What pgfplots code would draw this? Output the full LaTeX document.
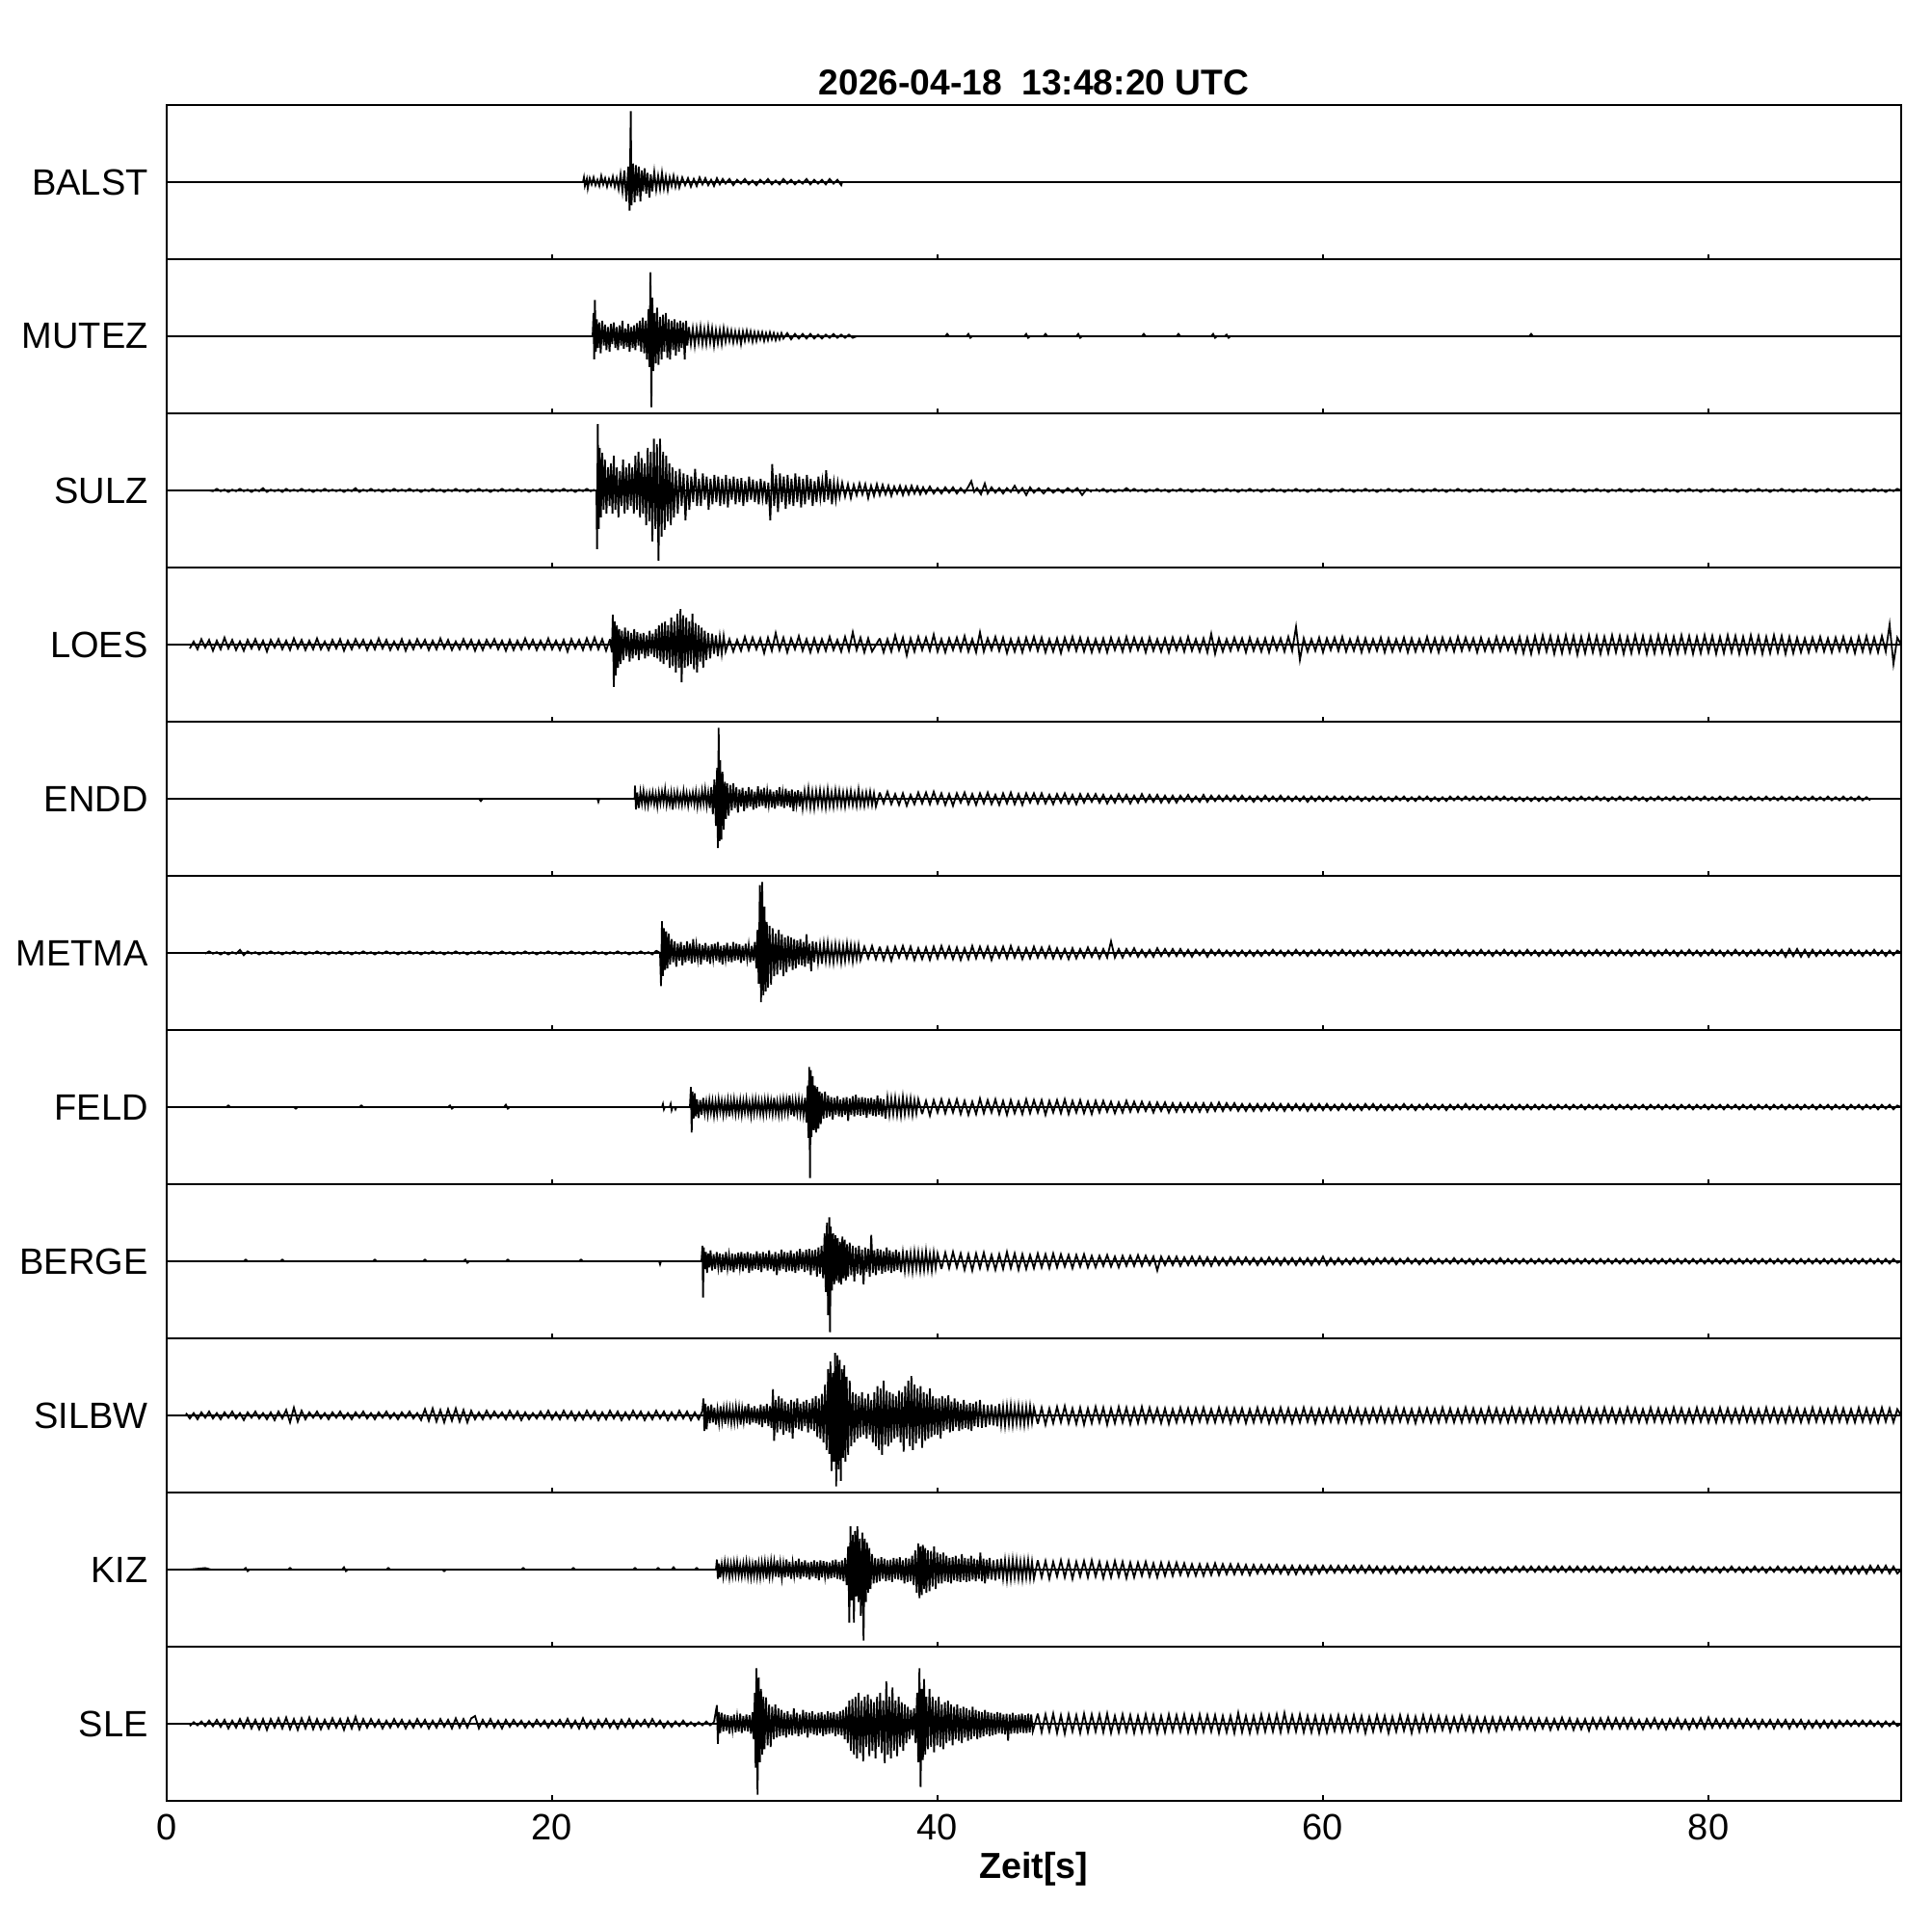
\documentclass[border=0pt]{standalone}
\usepackage{fontspec}
\setmainfont{Liberation Sans}
\usepackage{pgfplots}
\usepackage{pgfplotstable}
\pgfplotsset{compat=1.18}
\usepgfplotslibrary{groupplots}
\tikzset{tr/.style={black, line width=0.45pt, mark=none}}
% quiet noise before the first arrivals (amplitude in % of half a panel)
\pgfplotstableread{
t sulz loes metma silbw sle
1.0 nan nan nan 3 nan
1.2 nan -5 nan -4 -3
1.4 nan 4 nan 3 2
1.6 nan -6 nan -5 -2
1.8 nan 7 nan 4 3
2.0 nan -4 -1 -3 -3
2.2 0 6 2 5 4
2.4 -1 -8 -1 -4 -3
2.6 2 5 1 3 5
2.8 -1 -6 -2 -5 -4
3.0 1 9 1 4 5
3.2 -2 -5 -2 -3 -6
3.4 1 6 1 5 4
3.6 -1 -7 -1 -4 -5
3.8 2 4 4 3 6
4.0 -1 -8 -3 -6 -5
4.2 1 6 2 4 7
4.4 -2 -5 -1 -3 -6
4.6 1 7 1 5 5
4.8 -1 -6 -2 -4 -7
5.0 3 5 1 3 6
5.2 -2 -9 -1 -5 -8
5.4 1 6 2 4 6
5.6 -1 -4 -1 -6 -5
5.8 1 7 1 5 7
6.0 -2 -6 -2 -4 -6
6.2 2 5 1 7 8
6.4 -1 -7 -1 -9 -7
6.6 1 8 2 10 6
6.8 -1 -5 -1 -8 -8
7.0 2 6 1 6 7
7.2 -1 -7 -2 -5 -6
7.4 1 5 1 4 8
7.6 -2 -6 -1 -3 -7
7.8 1 8 2 5 6
8.0 -1 -6 -1 -4 -7
8.2 2 4 1 3 5
8.4 -1 -7 -2 -5 -6
8.6 1 6 1 4 7
8.8 -1 -5 -1 -3 -5
9.0 1 7 2 5 6
9.2 -2 -8 -1 -4 -8
9.4 1 5 1 3 7
9.6 -1 -6 -2 -5 -6
9.8 3 7 1 4 9
10.0 -2 -4 -1 -3 -7
10.2 1 6 2 5 6
10.4 -1 -7 -1 -4 -5
10.6 2 5 1 3 6
10.8 -1 -6 -2 -5 -4
11.0 1 8 1 4 5
11.2 -2 -5 -1 -3 -6
11.4 1 6 2 5 4
11.6 -1 -7 -1 -4 -5
11.8 2 4 1 3 6
12.0 -1 -6 -2 -5 -4
12.2 1 7 1 4 5
12.4 -1 -8 -1 -3 -6
12.6 2 5 2 5 4
12.8 -1 -6 -1 -4 -5
13.0 1 7 1 3 6
13.2 -2 -4 -2 -6 -4
13.4 1 6 1 8 5
13.6 -1 -7 -1 -7 -6
13.8 2 5 2 9 4
14.0 -1 -6 -1 -8 -5
14.2 1 8 1 7 6
14.4 -2 -5 -2 -9 -4
14.6 1 6 1 8 5
14.8 -1 -7 -1 -7 -6
15.0 2 4 2 9 7
15.2 -1 -6 -1 -8 -5
15.4 1 7 1 7 6
15.6 -2 -5 -2 -9 -5
15.8 1 6 1 6 7
16.0 -1 -8 -1 -5 10
16.2 2 5 2 4 -6
16.4 -1 -7 -1 -5 5
16.6 1 6 1 6 -4
16.8 -2 -4 -2 -4 6
17.0 1 7 1 5 -5
17.2 -1 -6 -1 -3 4
17.4 2 5 2 4 -6
17.6 -1 -8 -1 -5 5
17.8 1 6 1 6 -4
18.0 -1 -7 -2 -4 5
18.2 2 5 1 5 -3
18.4 -1 -6 -1 -6 4
18.6 1 8 2 4 -5
18.8 -2 -5 -1 -5 3
19.0 1 6 1 3 -4
19.2 -1 -7 -2 -4 5
19.4 2 5 1 5 -3
19.6 -1 -6 -1 -4 4
19.8 1 8 2 6 -5
20.0 -2 -6 -1 -5 4
20.2 1 5 1 4 -3
20.4 -1 -7 -2 -5 5
20.6 2 6 1 6 -4
20.8 -1 -9 -1 -4 6
21.0 1 7 2 5 -5
21.2 -2 -5 -1 -6 4
21.4 1 6 1 4 -6
21.6 -1 -7 -2 -5 7
21.8 2 8 1 6 -5
22.0 -1 -6 -1 -4 4
22.2 1 9 2 5 -6
22.4 nan -6 -1 -6 5
22.6 nan 7 1 4 -4
22.8 nan -8 -2 -5 6
23.0 nan 7 1 6 -5
23.2 nan nan -1 -4 4
23.4 nan nan 2 5 -6
23.6 nan nan -1 -6 5
23.8 nan nan 1 4 -4
24.0 nan nan -2 -5 6
24.2 nan nan 1 6 -5
24.4 nan nan -1 -4 4
24.6 nan nan 2 5 -3
24.8 nan nan -1 -6 5
25.0 nan nan 1 4 -4
25.2 nan nan -2 -5 6
25.4 nan nan 3 6 -3
25.6 nan nan nan -4 4
25.8 nan nan nan 5 -5
26.0 nan nan nan -6 3
26.2 nan nan nan 4 -4
26.4 nan nan nan -5 3
26.6 nan nan nan 6 -3
26.8 nan nan nan -4 4
27.0 nan nan nan 5 -3
27.2 nan nan nan -6 2
27.4 nan nan nan 4 -3
27.6 nan nan nan -5 2
27.8 nan nan nan 6 -2
28.0 nan nan nan nan 3
28.2 nan nan nan nan -2
28.4 nan nan nan nan 2
}\pretab
% coda noise after the strong phases
\pgfplotstableread{
t sulz loes endd metma feld berge silbw kiz sle
37.0 nan 8 8 8 nan nan nan nan nan
37.2 nan -10 -6 -9 nan nan nan nan nan
37.4 nan 7 9 7 nan nan nan nan nan
37.6 nan -9 -7 -10 nan nan nan nan nan
37.8 nan 12 6 8 nan nan nan nan nan
38.0 nan -7 -8 -6 nan nan nan nan nan
38.2 nan 9 7 9 nan nan nan nan nan
38.4 nan -14 -9 -7 nan nan nan nan nan
38.6 nan 8 5 8 nan nan nan nan nan
38.8 nan -9 -7 -9 nan nan nan nan nan
39.0 nan 10 8 6 nan nan nan nan nan
39.2 nan -7 -6 -8 -9 nan nan nan nan
39.4 nan 9 8 7 8 nan nan nan nan
39.6 nan -8 -7 -9 -11 nan nan nan nan
39.8 nan 13 9 8 9 nan nan nan nan
40.0 nan -9 -6 -7 -7 nan nan nan nan
40.2 nan 7 7 9 10 -10 nan nan nan
40.4 nan -10 -8 -6 -8 11 nan nan nan
40.6 nan 8 6 8 9 -9 nan nan nan
40.8 nan -7 -9 -8 -7 12 nan nan nan
41.0 nan 9 7 7 10 -8 nan nan nan
41.2 nan -8 -5 -9 -9 10 nan nan nan
41.4 nan 11 8 6 8 -11 nan nan nan
41.6 nan -9 -7 -8 -10 9 nan nan nan
41.8 nan 7 6 9 7 -12 nan nan nan
42.0 nan -10 -8 -7 -9 10 nan nan nan
42.2 nan 16 7 8 11 -9 nan nan nan
42.4 nan -9 -6 -6 -8 11 nan nan nan
42.6 nan 8 8 8 9 -10 nan nan nan
42.8 nan -7 -7 -9 -7 8 nan nan nan
43.0 nan 10 5 7 10 -11 nan nan nan
43.2 nan -8 -8 -6 -9 9 nan nan nan
43.4 nan 9 7 8 8 -10 nan nan nan
43.6 nan -11 -6 -7 -10 12 nan nan nan
43.8 nan 7 8 9 9 -9 nan nan nan
44.0 nan -9 -7 -6 -8 10 nan nan nan
44.2 nan 8 6 7 7 -11 nan nan nan
44.4 nan -10 -8 -8 -9 9 nan nan nan
44.6 nan 9 7 6 10 -10 nan nan nan
44.8 nan -7 -5 -7 -8 8 nan nan nan
45.0 nan 10 7 8 9 -9 nan nan nan
45.2 nan -8 -6 -6 -7 10 -11 12 13
45.4 nan 9 7 7 9 -8 10 -10 -11
45.6 nan -10 -6 -6 -10 9 -12 11 12
45.8 nan 7 5 8 8 -9 9 -12 -10
46.0 nan -9 -7 -7 -7 10 -10 10 13
46.2 nan 8 6 6 9 -8 11 -9 -12
46.4 nan -11 -5 -7 -8 9 -9 12 11
46.6 nan 9 7 5 10 -7 12 -10 -13
46.8 nan -7 -6 -8 -9 8 -10 11 12
47.0 nan 10 5 6 8 -9 9 -12 -10
47.2 nan -8 -7 -7 -7 8 -11 10 11
47.4 nan 9 6 5 9 -7 10 -9 -12
47.6 nan -9 -5 -6 -8 9 -12 11 13
47.8 nan 8 6 7 7 -8 9 -10 -11
48.0 nan -10 -4 -5 -9 7 -10 12 12
48.2 2 7 6 6 8 -8 11 -9 -10
48.4 -1 -9 -5 -7 -7 7 -9 10 12
48.6 2 8 5 5 8 -6 10 -11 -11
48.8 -2 -10 -6 -6 -6 8 -12 9 13
49.0 1 9 4 15 7 -7 9 -10 -12
49.2 -2 -7 -5 -6 -8 6 -10 11 10
49.4 1 8 6 5 6 -8 11 -9 -11
49.6 -1 -9 -4 -6 -7 7 -9 10 12
49.8 3 10 5 5 8 -6 10 -11 -10
50.0 -1 -8 -6 -4 -6 7 -11 9 11
50.2 2 9 4 6 7 -6 9 -10 -12
50.4 -1 -7 -5 -5 -6 8 -10 9 10
50.6 1 8 6 4 7 -6 11 -8 -11
50.8 -2 -10 -4 -5 -5 7 -9 10 12
51.0 1 9 5 4 6 -5 10 -9 -10
51.2 -1 -8 -4 -5 -7 6 -8 8 11
51.4 2 7 5 6 6 -12 9 -10 -12
51.6 -1 -9 -5 -4 -5 6 -10 9 10
51.8 1 8 4 5 6 -5 9 -8 -11
52.0 -2 -10 -5 -4 -7 6 -11 9 12
52.2 1 9 4 5 5 -5 8 -8 -10
52.4 -1 -7 -5 -4 -6 6 -9 9 11
52.6 2 8 4 5 5 -6 10 -7 -10
52.8 -1 -9 -3 -4 -6 5 -8 8 12
53.0 1 10 5 4 5 -5 9 -8 -11
53.2 -2 -8 -4 -5 -6 6 -10 7 10
53.4 1 7 3 4 5 -5 9 -8 -11
53.6 -1 -9 -4 -3 -6 6 -8 7 12
53.8 2 8 5 4 5 -5 10 -8 -10
54.0 -1 -10 -4 -5 -6 5 -9 7 11
54.2 1 14 4 4 5 -6 8 -7 -10
54.4 -2 -12 -3 -3 -5 5 -9 8 11
54.6 1 8 4 4 6 -5 10 -7 -12
54.8 -1 -9 -3 -4 -5 4 -8 7 10
55.0 2 7 4 3 5 -5 9 -6 -11
55.2 -1 -8 -3 -4 -4 5 -10 7 10
55.4 1 9 4 3 5 -4 9 -6 -12
55.6 -2 -7 -3 -4 -5 5 -8 7 14
55.8 1 8 4 3 4 -4 9 -6 -11
56.0 -1 -10 -3 -4 -5 5 -10 6 10
56.2 2 9 3 3 4 -4 8 -7 -12
56.4 -1 -8 -4 -4 -5 4 -9 6 10
56.6 1 7 3 3 4 -5 10 -5 -11
56.8 -2 -9 -3 -4 -5 4 -8 6 12
57.0 1 8 4 3 4 -4 9 -5 -10
57.2 -1 -10 -3 -3 -4 5 -10 6 11
57.4 2 9 3 4 5 -4 8 -5 -10
57.6 -1 -7 -3 -3 -4 4 -9 6 12
57.8 1 8 4 3 4 -5 10 -5 -11
58.0 -2 -9 -3 -4 -5 4 -8 5 14
58.2 1 10 3 3 4 -4 9 -6 -10
58.4 -1 -8 -3 -3 -4 4 -10 5 11
58.6 2 23 3 4 4 -5 8 -6 -10
58.8 -1 -20 -3 -3 -4 4 -9 5 12
59.0 1 8 3 3 4 -4 10 -5 -11
59.2 -2 -9 -4 -4 -5 4 -8 5 10
59.4 1 7 3 3 4 -5 9 -6 -11
59.6 -1 -8 -3 -3 -4 4 -10 5 10
59.8 2 9 3 4 4 -4 8 -5 -12
60.0 -1 -10 -3 -3 -4 6 -9 5 10
60.2 1 8 3 3 4 -5 9 -4 -11
60.4 -2 -7 -3 -4 -4 4 -8 5 10
60.6 1 9 3 3 3 -4 10 -4 -9
60.8 -1 -8 -2 -3 -4 4 -9 5 11
61.0 2 10 3 4 4 -4 8 -4 -10
61.2 -1 -9 -3 -3 -3 3 -9 5 9
61.4 1 7 3 3 4 -4 10 -4 -10
61.6 -2 -8 -2 -4 -4 4 -8 5 11
61.8 1 9 3 3 3 -3 9 -4 -9
62.0 -1 -10 -3 -3 -4 4 -10 5 10
62.2 2 8 2 4 4 -4 8 -4 -12
62.4 -1 -9 -3 -3 -3 3 -9 5 9
62.6 1 7 3 3 4 -4 9 -4 -10
62.8 -2 -8 -2 -4 -4 4 -8 4 11
63.0 1 9 3 3 3 -3 10 -5 -9
63.2 -1 -10 -3 -3 -4 4 -9 4 10
63.4 2 8 2 4 3 -3 8 -4 -12
63.6 -1 -9 -3 -3 -4 4 -9 4 9
63.8 1 7 3 3 3 -4 10 -5 -10
64.0 -2 -8 -2 -4 -3 3 -8 4 11
64.2 1 9 3 3 4 -3 9 -4 -9
64.4 -1 -10 -3 -3 -3 4 -9 4 10
64.6 2 8 2 4 3 -3 8 -4 -12
64.8 -1 -9 -3 -3 -4 3 -10 4 9
65.0 1 7 3 3 3 -4 9 -4 -10
65.2 -2 -8 -2 -4 -3 3 -8 4 11
65.4 1 10 3 3 4 -3 9 -4 -9
65.6 -1 -9 -3 -3 -3 4 -9 4 10
65.8 2 8 2 4 3 -3 8 -3 -9
66.0 -1 -10 -3 -3 -3 3 -9 4 10
66.2 1 9 2 3 3 -3 10 -4 -8
66.4 -2 -7 -3 -4 -4 3 -8 3 9
66.6 1 8 3 3 3 -3 9 -4 -10
66.8 -1 -9 -2 -3 -3 4 -9 3 8
67.0 2 10 3 4 3 -3 8 -4 -9
67.2 -1 -8 -2 -3 -3 3 -9 3 10
67.4 1 9 3 3 4 -3 10 -4 -8
67.6 -2 -7 -2 -4 -3 3 -8 3 9
67.8 1 8 3 3 3 -4 9 -4 -10
68.0 -1 -10 -2 -3 -3 3 -9 3 8
68.2 2 9 3 4 3 -3 8 -4 -9
68.4 -1 -8 -2 -3 -3 3 -9 3 8
68.6 1 7 3 3 3 -3 10 -4 -10
68.8 -2 -9 -2 -4 -3 3 -8 3 8
69.0 1 10 3 3 3 -3 9 -4 -9
69.2 -1 -8 -2 -3 -3 4 -9 3 8
69.4 2 9 3 4 3 -3 8 -4 -7
69.6 -1 -7 -2 -3 -3 3 -9 3 8
69.8 1 8 2 3 3 -3 10 -3 -7
70.0 -2 -10 -3 -4 -3 3 -8 4 8
70.2 1 10 2 3 3 -3 9 -3 -7
70.4 -1 -11 -3 -3 -3 3 -9 4 8
70.6 2 9 2 4 3 -3 8 -3 -6
70.8 -1 -12 -3 -3 -3 3 -9 4 7
71.0 1 11 2 3 3 -3 10 -3 -8
71.2 -2 -10 -3 -4 -3 3 -8 4 7
71.4 1 12 2 3 3 -3 9 -3 -6
71.6 -1 -9 -3 -3 -2 3 -9 4 7
71.8 2 11 2 4 3 -3 8 -3 -8
72.0 -1 -12 -2 -3 -3 3 -9 4 6
72.2 1 10 3 3 3 -3 10 -3 -7
72.4 -2 -11 -2 -4 -2 3 -8 4 8
72.6 1 12 2 3 3 -3 9 -3 -6
72.8 -1 -10 -3 -3 -3 3 -9 4 7
73.0 2 11 2 4 3 -3 8 -3 -8
73.2 -1 -13 -2 -3 -2 3 -9 4 6
73.4 1 10 3 3 3 -3 10 -3 -7
73.6 -2 -11 -2 -4 -3 3 -8 4 6
73.8 1 12 2 3 3 -3 9 -3 -9
74.0 -1 -10 -2 -3 -2 3 -9 4 7
74.2 2 11 3 4 3 -3 8 -3 -6
74.4 -1 -12 -2 -3 -3 3 -9 4 7
74.6 1 10 2 3 3 -3 10 -3 -6
74.8 -2 -11 -3 -4 -2 3 -8 3 8
75.0 1 12 2 3 3 -3 9 -4 -6
75.2 -1 -10 -2 -3 -3 3 -9 3 7
75.4 2 11 3 4 3 -3 8 -3 -6
75.6 -1 -12 -2 -3 -2 3 -9 4 7
75.8 1 10 2 3 3 -3 10 -3 -6
76.0 -2 -11 -2 -4 -3 3 -8 3 7
76.2 1 12 3 3 3 -3 9 -4 -6
76.4 -1 -10 -2 -3 -2 3 -9 3 5
76.6 2 11 2 4 3 -3 8 -3 -7
76.8 -1 -12 -3 -3 -3 3 -9 4 6
77.0 1 10 2 3 3 -3 10 -3 -5
77.2 -2 -11 -2 -4 -2 3 -8 3 7
77.4 1 12 3 3 3 -3 9 -4 -6
77.6 -1 -10 -2 -3 -3 3 -9 3 5
77.8 2 11 2 4 3 -3 8 -3 -7
78.0 -1 -12 -2 -3 -2 3 -9 4 6
78.2 1 10 3 3 3 -3 10 -3 -5
78.4 -2 -11 -2 -4 -3 3 -8 3 7
78.6 1 12 2 3 3 -3 9 -4 -6
78.8 -1 -10 -2 -3 -2 3 -9 3 5
79.0 2 11 3 4 3 -3 8 -3 -7
79.2 -1 -12 -2 -3 -3 3 -9 4 6
79.4 1 10 2 3 3 -3 10 -3 -5
79.6 -2 -11 -2 -4 -2 3 -8 3 7
79.8 1 12 3 3 3 -3 9 -4 -6
80.0 -1 -10 -2 -3 -3 3 -9 3 8
80.2 2 11 2 4 3 -3 8 -3 -5
80.4 -1 -12 -2 -3 -2 3 -9 3 6
80.6 1 10 3 3 3 -3 10 -4 -5
80.8 -2 -11 -2 -4 -3 3 -8 3 6
81.0 1 12 2 3 3 -3 9 -3 -5
81.2 -1 -10 -2 -3 -2 3 -9 4 6
81.4 2 11 3 4 3 -3 8 -3 -5
81.6 -1 -12 -2 -3 -3 3 -9 3 6
81.8 1 10 2 3 3 -3 10 -4 -5
82.0 -2 -11 -2 -4 -2 3 -8 3 6
82.2 1 12 3 3 3 -3 9 -3 -4
82.4 -1 -10 -2 -3 -3 3 -9 4 5
82.6 2 11 2 4 3 -3 8 -3 -6
82.8 -1 -12 -2 -3 -2 3 -9 3 5
83.0 1 10 3 3 3 -3 10 -4 -4
83.2 -2 -11 -2 -4 -3 3 -8 3 5
83.4 1 12 2 3 3 -3 9 -3 -6
83.6 -1 -10 -2 -3 -2 3 -9 4 5
83.8 2 11 3 4 3 -3 8 -3 -4
84.0 -1 -12 -2 -5 -3 3 -9 3 5
84.2 1 10 2 5 3 -3 10 -4 -6
84.4 -2 -11 -2 -4 -2 3 -8 3 5
84.6 1 9 3 5 3 -3 9 -3 -4
84.8 -1 -10 -2 -5 -3 3 -9 4 5
85.0 2 8 2 4 3 -3 8 -4 -6
85.2 -1 -10 -2 -5 -2 3 -9 3 4
85.4 1 9 3 4 3 -3 10 -4 -5
85.6 -2 -8 -2 -4 -3 3 -8 4 4
85.8 1 10 2 3 3 -3 9 -4 -5
86.0 -1 -9 -2 -3 -2 3 -9 3 4
86.2 2 8 3 4 3 -3 8 -4 -5
86.4 -1 -10 -2 -3 -3 3 -9 4 4
86.6 1 9 2 3 3 -3 10 -5 -5
86.8 -2 -8 -2 -4 -2 3 -8 4 4
87.0 1 10 3 3 3 -3 9 -5 -3
87.2 -1 -9 -2 -3 -3 3 -9 4 4
87.4 2 8 2 4 3 -3 8 -5 -3
87.6 -1 -11 -2 -3 -2 3 -9 4 4
87.8 1 10 3 3 3 -3 10 -5 -3
88.0 -2 -9 -2 -4 -3 3 -8 4 4
88.2 1 11 2 3 3 -3 9 -5 -3
88.4 -1 -10 -2 -3 -2 3 -9 5 4
88.6 2 9 nan 4 3 -3 8 -4 -3
88.8 -1 -10 nan -3 -3 3 -9 5 3
89.0 1 11 nan 3 3 -3 10 -4 -4
89.2 -2 -9 nan -4 -2 3 -8 5 3
89.4 1 26 nan 3 3 -3 9 -5 -3
89.6 -1 -25 nan -3 -3 3 -9 4 3
89.8 2 9 nan 3 2 -2 8 -5 -3
90.0 0 0 nan 0 0 0 0 0 0
}\codatab
\begin{document}
\begin{tikzpicture}
\begin{groupplot}[
  group style={group size=1 by 11, vertical sep=0pt, xticklabels at=edge bottom},
  width=450pt, height=40pt, scale only axis,
  xmin=0, xmax=90, ymin=-100, ymax=100,
  xtick={0,20,40,60,80}, xtick pos=bottom, tick align=inside,
  major tick length=1.2pt, every tick/.style={black, line width=0.4pt},
  ytick={0}, ytick style={draw=none},
  axis line style={line width=0.5pt},
  yticklabel style={font=\fontsize{9.5}{11}\selectfont, xshift=-1.3pt},
  xticklabel style={font=\fontsize{9.5}{11}\selectfont},
  /pgf/number format/assume math mode=true,
]
% BALST
\nextgroupplot[yticklabels={BALST},
  title={\bfseries 2026-04-18\ \ 13:48:20 UTC},
  title style={font=\fontsize{9.3}{11}\selectfont, yshift=-7pt}]
\addplot[tr] coordinates {(0,0) (90,0)};
\addplot[tr] coordinates {(21.6,0) (21.65,6) (21.7,-5) (21.8,4) (21.85,-8) (21.95,5) (22.05,-3) (22.15,6) (22.25,-4) (22.35,3) (22.45,-5) (22.55,8) (22.65,-3) (22.75,5) (22.85,-6) (22.95,4) (23.05,-4) (23.15,7) (23.25,-6) (23.35,5) (23.45,-9) (23.55,10) (23.65,-12) (23.75,15) (23.85,-25) (23.95,20) (24.02,-37) (24.08,92) (24.12,-30) (24.2,24) (24.28,-26) (24.35,22) (24.42,-18) (24.5,20) (24.58,-25) (24.65,15) (24.72,-12) (24.8,18) (24.88,-15) (24.95,12) (25.05,-20) (25.12,10) (25.2,-12) (25.3,13) (25.4,-10) (25.5,8) (25.6,-9) (25.7,12) (25.8,-8) (25.9,7) (26.0,-10) (26.1,6) (26.2,-5) (26.3,8) (26.4,-6) (26.5,5) (26.6,-7) (26.75,6) (26.9,-4) (27.05,5) (27.2,-6) (27.35,4) (27.5,-5) (27.65,6) (27.8,-3) (27.95,5) (28.1,-4) (28.25,3) (28.4,-5) (28.55,5) (28.7,-3) (28.85,4) (29.0,-2) (29.2,4) (29.4,-4) (29.6,3) (29.8,-2) (30.0,4) (30.2,-3) (30.4,2) (30.6,-4) (30.8,3) (31.0,-2) (31.2,4) (31.4,-3) (31.6,2) (31.8,-3) (32.0,4) (32.2,-2) (32.4,3) (32.6,-3) (32.8,2) (33.0,-2) (33.2,4) (33.4,-3) (33.6,3) (33.8,-2) (34.0,3) (34.2,-3) (34.4,4) (34.6,-2) (34.8,3) (35.0,-4) (35.05,0)};
% MUTEZ
\nextgroupplot[yticklabels={MUTEZ}]
\addplot[tr] coordinates {(0,0) (90,0)};
\addplot[tr] coordinates {(22.1,0) (22.15,30) (22.18,-30) (22.22,47) (22.27,-20) (22.32,22) (22.38,-15) (22.45,18) (22.52,-22) (22.6,20) (22.68,-12) (22.75,15) (22.82,-18) (22.9,12) (22.98,-20) (23.05,16) (23.12,-10) (23.2,18) (23.28,-15) (23.35,12) (23.42,-18) (23.5,14) (23.58,-12) (23.65,20) (23.72,-16) (23.8,10) (23.88,-14) (23.95,16) (24.02,-20) (24.1,12) (24.18,-15) (24.25,14) (24.32,-18) (24.4,17) (24.48,-12) (24.55,20) (24.62,-20) (24.7,24) (24.78,-22) (24.85,20) (24.92,-30) (25.0,35) (25.05,-40) (25.1,83) (25.15,-92) (25.2,50) (25.25,-45) (25.32,30) (25.38,-35) (25.45,37) (25.52,-37) (25.6,25) (25.68,-30) (25.75,28) (25.82,-20) (25.9,30) (25.98,-28) (26.05,22) (26.12,-30) (26.2,20) (26.28,-18) (26.35,22) (26.42,-25) (26.5,18) (26.58,-20) (26.65,20) (26.72,-15) (26.8,18) (26.88,-30) (26.95,20) (27.02,-12) (27.1,12) (27.2,-10) (27.3,10) (27.4,-12) (27.5,10) (27.6,-8) (27.7,12) (27.8,-10) (27.9,9) (28.0,-10) (28.1,12) (28.2,-8) (28.3,10) (28.4,-12) (28.5,8) (28.6,-9) (28.7,8) (28.8,-10) (28.9,10) (29.0,-7) (29.1,8) (29.2,-6) (29.3,7) (29.4,-8) (29.5,6) (29.6,-7) (29.7,6) (29.8,-10) (29.9,6) (30.0,-6) (30.1,7) (30.2,-5) (30.3,6) (30.4,-7) (30.5,5) (30.6,-6) (30.7,5) (30.8,-4) (30.9,5) (31.0,-6) (31.1,4) (31.2,-5) (31.3,5) (31.4,-4) (31.5,4) (31.6,-5) (31.7,3) (31.8,-4) (31.9,4) (32.0,-3) (32.2,4) (32.4,-4) (32.6,3) (32.8,-3) (33.0,3) (33.2,-3) (33.4,3) (33.6,-3) (33.8,2) (34.0,-3) (34.2,2) (34.4,-2) (34.6,3) (34.8,-2) (35.0,2) (35.2,-2) (35.4,2) (35.6,-2) (35.8,0) (40.4,0) (40.5,3) (40.6,0) (41.5,0) (41.6,3) (41.7,-2) (41.8,0) (44.5,0) (44.6,3) (44.7,-2) (44.8,0) (45.5,0) (45.6,3) (45.7,0) (47.2,0) (47.3,3) (47.4,-2) (47.5,0) (50.6,0) (50.7,3) (50.8,0) (52.4,0) (52.5,3) (52.6,0) (54.2,0) (54.3,3) (54.4,-2) (54.5,0) (54.9,0) (55.0,2) (55.1,-2) (55.2,0) (70.7,0) (70.8,3) (70.9,0)};
% SULZ
\nextgroupplot[yticklabels={SULZ}]
\addplot[tr] coordinates {(0,0) (90,0)};
\addplot[tr] table[x=t, y=sulz] {\pretab};
\addplot[tr] coordinates {(22.3,0) (22.33,-76) (22.37,86) (22.42,-50) (22.47,55) (22.53,-35) (22.6,49) (22.67,-25) (22.74,40) (22.82,-30) (22.9,30) (22.98,-20) (23.05,35) (23.13,-30) (23.2,45) (23.28,-25) (23.36,30) (23.44,-35) (23.52,25) (23.6,-20) (23.68,40) (23.76,-30) (23.84,30) (23.92,-25) (24.0,35) (24.08,-20) (24.16,30) (24.24,-30) (24.32,45) (24.4,-25) (24.48,50) (24.56,-35) (24.64,42) (24.72,-30) (24.8,35) (24.88,-45) (24.96,55) (25.04,-40) (25.12,50) (25.2,-66) (25.28,67) (25.36,-50) (25.44,60) (25.52,-91) (25.6,67) (25.68,-60) (25.76,50) (25.84,-51) (25.92,45) (26.0,-40) (26.08,35) (26.16,-45) (26.24,30) (26.32,-35) (26.42,25) (26.52,-30) (26.62,28) (26.72,-20) (26.82,22) (26.92,-39) (27.02,20) (27.12,-25) (27.22,18) (27.32,-15) (27.42,28) (27.52,-20) (27.62,15) (27.72,-20) (27.82,22) (27.92,-12) (28.02,18) (28.12,-25) (28.22,15) (28.32,-18) (28.42,20) (28.52,-15) (28.62,18) (28.72,-20) (28.82,15) (28.92,-18) (29.02,20) (29.12,-22) (29.22,15) (29.32,-12) (29.42,18) (29.52,-18) (29.62,15) (29.72,-15) (29.82,16) (29.92,-20) (30.02,12) (30.12,-15) (30.22,18) (30.32,-12) (30.42,14) (30.52,-15) (30.62,12) (30.72,-18) (30.82,15) (30.92,-10) (31.02,12) (31.12,-18) (31.22,10) (31.32,-39) (31.42,34) (31.52,-20) (31.62,20) (31.72,-28) (31.82,22) (31.92,-15) (32.02,18) (32.12,-24) (32.22,20) (32.32,-18) (32.42,15) (32.52,-20) (32.62,22) (32.72,-15) (32.82,18) (32.92,-22) (33.02,15) (33.12,-18) (33.22,20) (33.32,-12) (33.42,15) (33.52,-20) (33.62,12) (33.72,-15) (33.82,18) (33.92,-10) (34.02,12) (34.12,-15) (34.22,26) (34.32,-12) (34.42,15) (34.52,-18) (34.62,10) (34.72,-12) (34.82,10) (34.92,-8) (35.05,10) (35.2,-8) (35.35,8) (35.5,-10) (35.65,7) (35.8,-6) (35.95,9) (36.1,-5) (36.25,8) (36.4,-10) (36.55,6) (36.7,-7) (36.85,8) (37.0,-6) (37.15,7) (37.3,-5) (37.45,6) (37.6,-7) (37.75,5) (37.9,-4) (38.05,6) (38.2,-6) (38.35,5) (38.5,-5) (38.65,6) (38.8,-4) (38.95,5) (39.1,-5) (39.25,4) (39.4,-4) (39.6,5) (39.8,-4) (40.0,3) (40.2,-4) (40.4,4) (40.6,-3) (40.8,4) (41.0,-4) (41.2,3) (41.4,-3) (41.6,5) (41.75,12) (41.9,-2) (42.05,3) (42.25,-5) (42.45,9) (42.6,-4) (42.8,4) (43.0,-3) (43.2,3) (43.4,-4) (43.6,3) (43.8,-2) (44.0,6) (44.2,-3) (44.4,3) (44.6,-6) (44.8,4) (45.0,-3) (45.25,3) (45.5,-4) (45.75,3) (46.0,-3) (46.25,2) (46.5,-3) (46.75,3) (47.0,-2) (47.25,3) (47.5,-6) (47.75,2) (48.0,-2)};
\addplot[tr] table[x=t, y=sulz] {\codatab};
% LOES
\nextgroupplot[yticklabels={LOES}]
\addplot[tr] coordinates {(0,0) (90,0)};
\addplot[tr] table[x=t, y=loes] {\pretab};
\addplot[tr] coordinates {(23.0,7) (23.1,-10) (23.15,39) (23.2,-55) (23.25,30) (23.3,-40) (23.36,25) (23.42,-30) (23.48,20) (23.55,-25) (23.62,18) (23.7,-20) (23.78,22) (23.86,-15) (23.94,18) (24.02,-22) (24.1,15) (24.18,-18) (24.26,20) (24.34,-14) (24.42,16) (24.5,-20) (24.58,14) (24.66,-12) (24.74,15) (24.82,-18) (24.9,12) (24.98,-15) (25.06,18) (25.14,-12) (25.22,14) (25.3,-16) (25.38,20) (25.46,-18) (25.54,25) (25.62,-22) (25.7,28) (25.78,-25) (25.86,30) (25.94,-20) (26.02,25) (26.1,-30) (26.18,35) (26.26,-28) (26.34,30) (26.42,-36) (26.5,40) (26.58,-30) (26.66,46) (26.72,-49) (26.8,38) (26.88,-30) (26.96,35) (27.04,-28) (27.12,30) (27.2,-25) (27.28,40) (27.36,-32) (27.44,28) (27.52,-36) (27.6,25) (27.68,-22) (27.76,22) (27.84,-30) (27.92,18) (28.0,-20) (28.1,15) (28.2,-18) (28.3,14) (28.4,-12) (28.5,12) (28.6,-15) (28.7,10) (28.8,-12) (28.9,11) (29.0,-9) (29.2,7) (29.4,-9) (29.6,6) (29.8,-8) (30.0,10) (30.2,-7) (30.4,9) (30.6,-6) (30.8,8) (31.0,-11) (31.2,9) (31.4,-8) (31.6,15) (31.8,-7) (32.0,9) (32.2,-10) (32.4,8) (32.6,-6) (32.8,11) (33.0,-8) (33.2,7) (33.4,-10) (33.6,8) (33.8,-9) (34.0,7) (34.2,-8) (34.4,10) (34.6,-7) (34.8,6) (35.0,-9) (35.2,10) (35.4,-8) (35.6,16) (35.8,-7) (36.0,9) (36.2,-10) (36.4,8) (36.6,-9) (37.0,8)};
\addplot[tr] table[x=t, y=loes] {\codatab};
% ENDD
\nextgroupplot[yticklabels={ENDD}]
\addplot[tr] coordinates {(0,0) (90,0)};
\addplot[tr] coordinates {(16.2,0) (16.3,-3) (16.4,0) (22.35,0) (22.4,-4) (22.45,0) (24.28,0) (24.3,17) (24.35,-14) (24.42,8) (24.5,-12) (24.58,9) (24.66,-6) (24.74,10) (24.82,-8) (24.9,6) (24.98,-9) (25.06,7) (25.14,-5) (25.22,8) (25.3,-7) (25.38,6) (25.46,-10) (25.54,8) (25.62,-6) (25.7,9) (25.78,-5) (25.86,12) (25.94,-8) (26.02,6) (26.1,-7) (26.18,8) (26.26,-14) (26.34,7) (26.42,-6) (26.5,9) (26.58,-7) (26.66,5) (26.74,-8) (26.82,10) (26.9,-6) (26.98,7) (27.06,-9) (27.14,6) (27.22,-5) (27.3,8) (27.38,-7) (27.46,9) (27.54,-10) (27.62,6) (27.7,-8) (27.78,10) (27.86,-6) (27.94,12) (28.02,-9) (28.1,8) (28.18,-12) (28.26,15) (28.34,-20) (28.42,25) (28.5,-35) (28.56,40) (28.6,-64) (28.64,92) (28.68,-55) (28.72,50) (28.78,-53) (28.84,35) (28.9,-40) (28.96,22) (29.02,-26) (29.08,20) (29.16,-22) (29.24,18) (29.32,-15) (29.4,20) (29.48,-12) (29.56,15) (29.64,-18) (29.72,12) (29.8,-10) (29.88,14) (29.96,-16) (30.04,10) (30.12,-12) (30.2,15) (30.28,-10) (30.36,12) (30.44,-14) (30.52,9) (30.6,-12) (30.68,16) (30.76,-10) (30.84,12) (30.92,-9) (31.0,14) (31.08,-12) (31.16,10) (31.24,-8) (31.32,12) (31.4,-11) (31.48,9) (31.56,-13) (31.64,11) (31.72,-9) (31.8,15) (31.88,-10) (31.96,8) (32.04,-12) (32.12,13) (32.2,-9) (32.28,10) (32.36,-11) (32.44,12) (32.52,-16) (32.6,9) (32.68,-8) (32.76,11) (32.84,-10) (32.92,9) (33.0,-12) (33.1,10) (33.2,-9) (33.3,13) (33.4,-11) (33.5,9) (33.6,-12) (33.7,10) (33.8,-8) (33.9,11) (34.0,-10) (34.1,9) (34.2,-11) (34.3,12) (34.4,-9) (34.5,8) (34.6,-10) (34.7,11) (34.8,-8) (34.9,10) (35.0,-9) (35.1,8) (35.2,-10) (35.3,9) (35.4,-7) (35.5,10) (35.6,-8) (35.7,7) (35.8,-9) (35.9,12) (36.0,-8) (36.1,7) (36.2,-9) (36.3,8) (36.4,-7) (36.5,9) (36.6,-8) (36.7,7) (36.8,-10) (37.0,8)};
\addplot[tr] table[x=t, y=endd] {\codatab};
% METMA
\nextgroupplot[yticklabels={METMA}]
\addplot[tr] coordinates {(0,0) (90,0)};
\addplot[tr] table[x=t, y=metma] {\pretab};
\addplot[tr] coordinates {(25.4,3) (25.6,0) (25.65,-43) (25.7,41) (25.75,-30) (25.8,32) (25.86,-22) (25.92,28) (25.98,-20) (26.05,25) (26.12,-15) (26.2,18) (26.28,-12) (26.36,15) (26.44,-18) (26.52,12) (26.6,-10) (26.68,14) (26.76,-16) (26.84,10) (26.92,-12) (27.0,15) (27.08,-10) (27.16,12) (27.24,-14) (27.32,18) (27.4,-12) (27.48,10) (27.56,-8) (27.64,12) (27.72,-15) (27.8,10) (27.88,-9) (27.96,13) (28.04,-11) (28.12,9) (28.2,-14) (28.28,11) (28.36,-8) (28.44,12) (28.52,-10) (28.6,14) (28.68,-12) (28.76,9) (28.84,-15) (28.92,10) (29.0,-8) (29.08,13) (29.16,-11) (29.24,9) (29.32,-12) (29.4,14) (29.48,-10) (29.56,12) (29.64,-9) (29.72,11) (29.8,-13) (29.88,9) (29.96,-10) (30.04,12) (30.12,-8) (30.2,10) (30.28,-12) (30.36,9) (30.44,-10) (30.52,14) (30.6,-20) (30.66,30) (30.72,-40) (30.78,88) (30.84,-64) (30.9,92) (30.96,-55) (31.02,60) (31.08,-50) (31.14,40) (31.2,-45) (31.28,35) (31.36,-41) (31.44,32) (31.52,-30) (31.6,25) (31.68,-28) (31.76,30) (31.84,-22) (31.92,24) (32.0,-30) (32.08,20) (32.16,-25) (32.24,22) (32.32,-18) (32.4,20) (32.48,-22) (32.56,18) (32.64,-20) (32.72,16) (32.8,-15) (32.88,18) (32.96,-16) (33.04,14) (33.12,-18) (33.2,24) (33.28,-14) (33.36,12) (33.44,-24) (33.52,15) (33.6,-12) (33.7,14) (33.8,-12) (33.9,10) (34.0,-14) (34.1,12) (34.2,-10) (34.3,13) (34.4,-11) (34.5,9) (34.6,-12) (34.7,11) (34.8,-9) (34.9,10) (35.0,-12) (35.1,9) (35.2,-10) (35.3,12) (35.4,-8) (35.5,10) (35.6,-11) (35.7,9) (35.8,-8) (35.9,10) (36.0,-9) (36.2,8) (36.4,-7) (36.6,9) (36.8,-8) (37.0,8)};
\addplot[tr] table[x=t, y=metma] {\codatab};
% FELD
\nextgroupplot[yticklabels={FELD}]
\addplot[tr] coordinates {(0,0) (90,0)};
\addplot[tr] coordinates {(3.1,0) (3.2,2) (3.3,0) (6.6,0) (6.7,-2) (6.8,0) (10.0,0) (10.1,2) (10.2,0) (14.6,0) (14.7,2) (14.8,-2) (14.9,0) (17.5,0) (17.6,3) (17.7,-2) (17.8,0) (25.7,0) (25.75,4) (25.8,-3) (25.85,0) (26.1,0) (26.15,4) (26.2,-4) (26.25,0) (26.35,0) (26.4,-3) (26.45,0) (27.15,0) (27.2,26) (27.24,-33) (27.28,20) (27.34,-15) (27.4,18) (27.46,-12) (27.52,10) (27.6,-14) (27.68,9) (27.76,-10) (27.84,12) (27.92,-8) (28.0,7) (28.08,-10) (28.16,9) (28.24,-7) (28.32,8) (28.4,-11) (28.48,7) (28.56,-9) (28.64,10) (28.72,-6) (28.8,8) (28.88,-10) (28.96,7) (29.04,-8) (29.12,9) (29.2,-12) (29.28,8) (29.36,-7) (29.44,10) (29.52,-9) (29.6,7) (29.68,-8) (29.76,9) (29.84,-10) (29.92,8) (30.0,-7) (30.08,10) (30.16,-8) (30.24,6) (30.32,-11) (30.4,9) (30.48,-8) (30.56,10) (30.64,-7) (30.72,8) (30.8,-9) (30.88,7) (30.96,-10) (31.04,9) (31.12,-8) (31.2,10) (31.28,-7) (31.36,8) (31.44,-9) (31.52,12) (31.6,-8) (31.68,7) (31.76,-10) (31.84,8) (31.92,-9) (32.0,10) (32.08,-7) (32.16,9) (32.24,-8) (32.32,15) (32.4,-10) (32.48,8) (32.56,-12) (32.64,9) (32.72,-8) (32.8,10) (32.88,-9) (32.96,8) (33.04,-10) (33.12,12) (33.2,-20) (33.26,28) (33.3,-40) (33.34,52) (33.38,-92) (33.42,48) (33.46,-39) (33.52,40) (33.58,-30) (33.64,28) (33.7,-33) (33.76,26) (33.82,-28) (33.88,20) (33.94,-22) (34.0,18) (34.08,-15) (34.16,20) (34.24,-14) (34.32,15) (34.4,-12) (34.48,13) (34.56,-16) (34.64,12) (34.72,-10) (34.8,14) (34.88,-12) (34.96,10) (35.04,-13) (35.12,12) (35.2,-10) (35.28,13) (35.36,-18) (35.44,11) (35.52,-10) (35.6,14) (35.68,-12) (35.76,16) (35.84,-10) (35.92,12) (36.0,-11) (36.08,13) (36.16,-10) (36.24,12) (36.32,-14) (36.4,11) (36.48,-9) (36.56,12) (36.64,-11) (36.72,10) (36.8,-12) (36.88,15) (36.96,-10) (37.04,11) (37.12,-12) (37.2,10) (37.3,-15) (37.4,12) (37.5,-10) (37.6,11) (37.7,-9) (37.8,12) (37.9,-10) (38.0,9) (38.1,-11) (38.2,13) (38.3,-9) (38.4,10) (38.5,-8) (38.6,11) (38.7,-10) (38.8,9) (38.9,-8) (39.0,10) (39.2,-9)};
\addplot[tr] table[x=t, y=feld] {\codatab};
% BERGE
\nextgroupplot[yticklabels={BERGE}]
\addplot[tr] coordinates {(0,0) (90,0)};
\addplot[tr] coordinates {(4.0,0) (4.1,2) (4.2,0) (5.9,0) (6.0,2) (6.1,0) (10.7,0) (10.8,2) (10.9,0) (13.3,0) (13.4,2) (13.5,0) (15.4,0) (15.5,2) (15.6,-2) (15.7,0) (17.6,0) (17.7,2) (17.8,0) (21.4,0) (21.5,2) (21.6,0) (25.55,0) (25.6,-4) (25.65,0) (27.75,0) (27.8,20) (27.83,-47) (27.87,18) (27.92,-10) (27.98,12) (28.04,-15) (28.1,10) (28.16,-8) (28.22,14) (28.3,-12) (28.38,9) (28.46,-10) (28.54,12) (28.62,-8) (28.7,10) (28.78,-14) (28.86,9) (28.94,-11) (29.02,12) (29.1,-9) (29.18,8) (29.26,-12) (29.34,10) (29.42,-14) (29.5,9) (29.58,-10) (29.66,11) (29.74,-8) (29.82,12) (29.9,-13) (29.98,10) (30.06,-9) (30.14,12) (30.22,-15) (30.3,10) (30.38,-12) (30.46,9) (30.54,-10) (30.62,13) (30.7,-11) (30.78,10) (30.86,-14) (30.94,12) (31.02,-9) (31.1,10) (31.18,-12) (31.26,14) (31.34,-10) (31.42,9) (31.5,-13) (31.58,12) (31.66,-18) (31.74,10) (31.82,-12) (31.9,15) (31.98,-10) (32.06,12) (32.14,-14) (32.22,11) (32.3,-12) (32.38,14) (32.46,-13) (32.54,10) (32.62,-15) (32.7,13) (32.78,-12) (32.86,16) (32.94,-10) (33.02,12) (33.1,-14) (33.18,15) (33.26,-12) (33.34,16) (33.42,-18) (33.5,14) (33.58,-12) (33.66,15) (33.74,-20) (33.82,18) (33.9,-16) (33.98,20) (34.06,-22) (34.14,36) (34.2,-40) (34.26,50) (34.32,-70) (34.38,57) (34.42,-92) (34.46,45) (34.52,-38) (34.58,36) (34.64,-30) (34.7,34) (34.76,-25) (34.82,30) (34.88,-28) (34.94,25) (35.0,-30) (35.06,32) (35.12,-22) (35.18,28) (35.24,-25) (35.3,22) (35.36,-20) (35.44,24) (35.52,-18) (35.6,20) (35.68,-26) (35.76,18) (35.84,-16) (35.92,20) (36.0,-18) (36.08,15) (36.16,-30) (36.24,18) (36.32,-14) (36.4,16) (36.48,-20) (36.56,34) (36.64,-15) (36.72,14) (36.8,-18) (36.88,16) (36.96,-12) (37.04,15) (37.12,-16) (37.2,13) (37.28,-14) (37.36,18) (37.44,-12) (37.52,14) (37.6,-15) (37.68,12) (37.76,-13) (37.84,15) (37.92,-11) (38.0,12) (38.1,-14) (38.2,11) (38.3,-12) (38.4,14) (38.5,-11) (38.6,10) (38.7,-13) (38.8,12) (38.9,-10) (39.0,11) (39.1,-12) (39.2,10) (39.3,-11) (39.4,13) (39.5,-10) (39.6,9) (39.7,-12) (39.8,11) (39.9,-9) (40.0,10) (40.2,-10)};
\addplot[tr] table[x=t, y=berge] {\codatab};
% SILBW
\nextgroupplot[yticklabels={SILBW}]
\addplot[tr] coordinates {(0,0) (90,0)};
\addplot[tr] table[x=t, y=silbw] {\pretab};
\addplot[tr] coordinates {(27.8,6) (27.85,22) (27.9,-20) (27.96,15) (28.02,-18) (28.1,12) (28.18,-10) (28.26,14) (28.34,-9) (28.42,10) (28.5,-12) (28.58,8) (28.66,-10) (28.74,12) (28.82,-8) (28.9,9) (28.98,-11) (29.06,10) (29.14,-7) (29.22,9) (29.3,-10) (29.38,8) (29.46,-9) (29.54,11) (29.62,-8) (29.7,10) (29.78,-12) (29.86,9) (29.94,-8) (30.02,12) (30.1,-10) (30.18,15) (30.26,-12) (30.34,10) (30.42,-9) (30.5,12) (30.58,-10) (30.66,9) (30.74,-12) (30.82,14) (30.9,-15) (30.98,12) (31.06,-10) (31.14,15) (31.22,-14) (31.3,12) (31.38,-16) (31.46,34) (31.52,-33) (31.6,20) (31.68,-22) (31.76,25) (31.84,-18) (31.92,22) (32.0,-25) (32.08,18) (32.16,-20) (32.24,15) (32.32,-22) (32.4,20) (32.48,-30) (32.56,18) (32.64,-16) (32.72,22) (32.8,-18) (32.88,15) (32.96,-20) (33.04,18) (33.12,-14) (33.2,20) (33.28,-22) (33.36,16) (33.44,-18) (33.52,22) (33.6,-20) (33.68,25) (33.76,-28) (33.84,22) (33.92,-30) (34.0,28) (34.08,-35) (34.16,40) (34.24,-45) (34.32,60) (34.38,-50) (34.44,70) (34.5,-72) (34.56,55) (34.62,-60) (34.68,81) (34.74,-92) (34.8,78) (34.86,-70) (34.92,72) (34.98,-85) (35.04,60) (35.1,-55) (35.16,65) (35.22,-60) (35.28,50) (35.36,-51) (35.44,45) (35.52,-40) (35.6,30) (35.68,-35) (35.76,28) (35.84,-30) (35.92,25) (36.0,-28) (36.08,30) (36.16,-25) (36.24,22) (36.32,-30) (36.4,28) (36.48,-25) (36.56,20) (36.64,-35) (36.72,30) (36.8,-40) (36.88,38) (36.96,-45) (37.04,35) (37.12,-51) (37.2,45) (37.28,-38) (37.36,32) (37.44,-40) (37.52,30) (37.6,-35) (37.68,28) (37.76,-30) (37.84,25) (37.92,-28) (38.0,32) (38.08,-35) (38.16,30) (38.24,-47) (38.32,38) (38.4,-30) (38.48,45) (38.56,-40) (38.64,51) (38.72,-45) (38.8,40) (38.88,-36) (38.96,35) (39.04,-30) (39.12,38) (39.2,-42) (39.28,30) (39.36,-33) (39.44,28) (39.52,-30) (39.6,35) (39.68,-28) (39.76,25) (39.84,-25) (39.92,22) (40.0,-25) (40.08,22) (40.16,-30) (40.24,25) (40.32,-20) (40.4,22) (40.48,-18) (40.56,26) (40.64,-22) (40.72,18) (40.8,-20) (40.88,22) (40.96,-15) (41.04,18) (41.12,-20) (41.2,15) (41.28,-18) (41.36,20) (41.44,-16) (41.52,14) (41.6,-18) (41.68,16) (41.76,-20) (41.84,15) (41.92,-14) (42.0,18) (42.1,-15) (42.2,20) (42.3,-16) (42.4,14) (42.5,-15) (42.6,13) (42.7,-12) (42.8,14) (42.9,-13) (43.0,12) (43.1,-14) (43.2,15) (43.3,-12) (43.4,11) (43.5,-13) (43.6,12) (43.7,-11) (43.8,13) (43.9,-12) (44.0,11) (44.1,-10) (44.2,12) (44.3,-11) (44.4,10) (44.5,-12) (44.6,11) (44.7,-10) (44.8,12) (44.9,-9) (45.0,10) (45.2,-11)};
\addplot[tr] table[x=t, y=silbw] {\codatab};
% KIZ
\nextgroupplot[yticklabels={KIZ}]
\addplot[tr] coordinates {(0,0) (90,0)};
\addplot[tr] coordinates {(1.2,0) (2.0,2) (2.3,0) (4.0,0) (4.1,2) (4.2,-2) (4.3,0) (6.3,0) (6.4,2) (6.5,0) (9.1,0) (9.2,3) (9.3,-2) (9.4,0) (11.4,0) (11.5,2) (11.6,0) (14.3,0) (14.4,-2) (14.5,0) (18.4,0) (18.5,2) (18.6,0) (21.0,0) (21.1,2) (21.2,0) (24.2,0) (24.3,2) (24.4,0) (25.4,0) (25.5,2) (25.6,0) (26.2,0) (26.3,3) (26.4,0) (27.4,0) (27.5,2) (27.6,0) (28.5,0) (28.55,13) (28.6,-12) (28.66,8) (28.72,-10) (28.8,7) (28.88,-9) (28.96,10) (29.04,-6) (29.12,8) (29.2,-10) (29.28,7) (29.36,-8) (29.44,9) (29.52,-7) (29.6,10) (29.68,-8) (29.76,6) (29.84,-9) (29.92,8) (30.0,-7) (30.08,10) (30.16,-9) (30.24,8) (30.32,-10) (30.4,7) (30.48,-8) (30.56,12) (30.64,-9) (30.72,8) (30.8,-10) (30.88,9) (30.96,-7) (31.04,10) (31.12,-12) (31.2,8) (31.28,-9) (31.36,11) (31.44,-8) (31.52,10) (31.6,-9) (31.68,12) (31.76,-10) (31.84,9) (31.92,-11) (32.0,8) (32.08,-10) (32.16,13) (32.24,-9) (32.32,10) (32.4,-12) (32.48,9) (32.56,-8) (32.64,11) (32.72,-10) (32.8,14) (32.88,-12) (32.96,10) (33.04,-9) (33.12,12) (33.2,-10) (33.28,9) (33.36,-13) (33.44,10) (33.52,-9) (33.6,12) (33.68,-11) (33.76,10) (33.84,-14) (33.92,12) (34.0,-10) (34.08,11) (34.16,-9) (34.24,10) (34.32,-12) (34.4,9) (34.48,-11) (34.56,12) (34.64,-10) (34.72,13) (34.8,-12) (34.88,10) (34.96,-13) (35.04,12) (35.12,-15) (35.2,15) (35.28,-20) (35.36,30) (35.42,-69) (35.48,56) (35.54,-40) (35.6,45) (35.66,-69) (35.72,50) (35.78,-35) (35.84,56) (35.9,-42) (35.96,40) (36.02,-60) (36.1,48) (36.16,-92) (36.22,40) (36.28,-42) (36.34,35) (36.4,-30) (36.46,28) (36.52,-25) (36.6,20) (36.68,-18) (36.76,15) (36.84,-17) (36.92,14) (37.0,-15) (37.08,16) (37.16,-12) (37.24,14) (37.32,-15) (37.4,12) (37.48,-14) (37.56,13) (37.64,-16) (37.72,15) (37.8,-12) (37.88,14) (37.96,-13) (38.04,16) (38.12,-14) (38.2,12) (38.28,-18) (38.36,15) (38.44,-16) (38.52,14) (38.6,-15) (38.68,18) (38.76,-20) (38.84,25) (38.92,-30) (39.0,34) (39.06,-37) (39.12,30) (39.18,-33) (39.24,32) (39.3,-25) (39.36,28) (39.42,-30) (39.5,25) (39.58,-28) (39.66,24) (39.74,-22) (39.82,30) (39.9,-25) (39.98,22) (40.06,-18) (40.14,20) (40.22,-18) (40.3,22) (40.38,-15) (40.46,18) (40.54,-16) (40.62,15) (40.7,-18) (40.78,16) (40.86,-14) (40.94,18) (41.02,-15) (41.1,14) (41.18,-16) (41.26,20) (41.34,-14) (41.42,15) (41.5,-16) (41.58,14) (41.66,-15) (41.74,18) (41.82,-13) (41.9,14) (41.98,-15) (42.06,13) (42.14,-12) (42.22,22) (42.3,-15) (42.38,14) (42.46,-18) (42.54,13) (42.62,-12) (42.7,15) (42.8,-13) (42.9,12) (43.0,-14) (43.1,13) (43.2,-12) (43.3,14) (43.4,-11) (43.5,12) (43.6,-13) (43.7,11) (43.8,-12) (43.9,13) (44.0,-10) (44.1,12) (44.2,-11) (44.3,10) (44.4,-12) (44.5,11) (44.6,-10) (44.7,12) (44.8,-11) (44.9,10) (45.0,-12) (45.2,12)};
\addplot[tr] table[x=t, y=kiz] {\codatab};
% SLE
\nextgroupplot[yticklabels={SLE}, xlabel={\bfseries Zeit[s]},
  xlabel style={font=\fontsize{9.4}{11}\selectfont, yshift=3.8pt}, major tick length=1.6pt]
\addplot[tr] coordinates {(0,0) (90,0)};
\addplot[tr] table[x=t, y=sle] {\pretab};
\addplot[tr] coordinates {(28.4,2) (28.55,24) (28.6,-26) (28.66,15) (28.72,-12) (28.8,14) (28.88,-10) (28.96,12) (29.04,-9) (29.12,11) (29.2,-13) (29.28,10) (29.36,-8) (29.44,12) (29.52,-11) (29.6,9) (29.68,-10) (29.76,13) (29.84,-12) (29.92,10) (30.0,-9) (30.08,12) (30.16,-10) (30.24,11) (30.32,-13) (30.4,15) (30.46,-20) (30.52,40) (30.56,-57) (30.6,72) (30.66,-92) (30.72,60) (30.78,-50) (30.84,45) (30.9,-40) (30.96,35) (31.02,-33) (31.1,34) (31.18,-28) (31.26,25) (31.34,-30) (31.42,22) (31.5,-20) (31.58,25) (31.66,-18) (31.74,20) (31.82,-16) (31.9,18) (31.98,-15) (32.06,14) (32.14,-18) (32.22,16) (32.3,-14) (32.38,12) (32.46,-15) (32.54,20) (32.62,-13) (32.7,14) (32.78,-16) (32.86,12) (32.94,-14) (33.02,18) (33.1,-12) (33.18,15) (33.26,-18) (33.34,14) (33.42,-12) (33.5,16) (33.58,-14) (33.66,12) (33.74,-15) (33.82,14) (33.9,-12) (33.98,15) (34.06,-16) (34.14,12) (34.22,-14) (34.3,16) (34.38,-13) (34.46,14) (34.54,-12) (34.62,15) (34.7,-16) (34.78,13) (34.86,-14) (34.94,16) (35.02,-15) (35.1,18) (35.18,-20) (35.26,22) (35.34,-25) (35.42,30) (35.5,-35) (35.58,32) (35.66,-40) (35.74,35) (35.82,-45) (35.9,40) (35.98,-38) (36.06,30) (36.14,-49) (36.22,35) (36.3,-30) (36.38,38) (36.46,-42) (36.54,32) (36.62,-35) (36.7,28) (36.78,-45) (36.86,35) (36.94,-30) (37.02,40) (37.1,-38) (37.18,30) (37.26,-51) (37.34,55) (37.42,-40) (37.5,35) (37.58,-45) (37.66,47) (37.74,-35) (37.82,30) (37.9,-42) (37.98,35) (38.06,-30) (38.14,28) (38.22,-35) (38.3,25) (38.38,-25) (38.46,22) (38.54,-20) (38.62,18) (38.7,-15) (38.78,20) (38.86,-25) (38.94,40) (39.0,-50) (39.06,72) (39.12,-82) (39.18,45) (39.24,-47) (39.3,58) (39.36,-40) (39.42,35) (39.5,-33) (39.58,45) (39.66,-30) (39.74,35) (39.82,-37) (39.9,30) (39.98,-28) (40.06,35) (40.14,-30) (40.22,25) (40.3,-33) (40.38,28) (40.46,-25) (40.54,30) (40.62,-22) (40.7,25) (40.78,-28) (40.86,22) (40.94,-20) (41.02,25) (41.1,-22) (41.18,20) (41.26,-25) (41.34,22) (41.42,-18) (41.5,20) (41.58,-22) (41.66,18) (41.74,-20) (41.82,22) (41.9,-16) (41.98,18) (42.06,-20) (42.14,16) (42.22,-18) (42.3,15) (42.38,-16) (42.46,18) (42.54,-14) (42.62,15) (42.7,-16) (42.78,14) (42.86,-15) (42.94,13) (43.02,-14) (43.1,15) (43.18,-12) (43.26,14) (43.34,-13) (43.42,12) (43.5,-14) (43.58,13) (43.66,-22) (43.74,12) (43.82,-13) (43.9,14) (43.98,-12) (44.06,11) (44.14,-13) (44.22,12) (44.3,-11) (44.38,13) (44.46,-12) (44.54,11) (44.62,-12) (44.7,13) (44.78,-11) (44.86,12) (44.94,-10) (45.2,13)};
\addplot[tr] table[x=t, y=sle] {\codatab};
\end{groupplot}
\path ([shift={(-43.25pt,27.25pt)}]group c1r1.north west) rectangle ([shift={(8pt,-33.25pt)}]group c1r11.south east);
\end{tikzpicture}
\end{document}
